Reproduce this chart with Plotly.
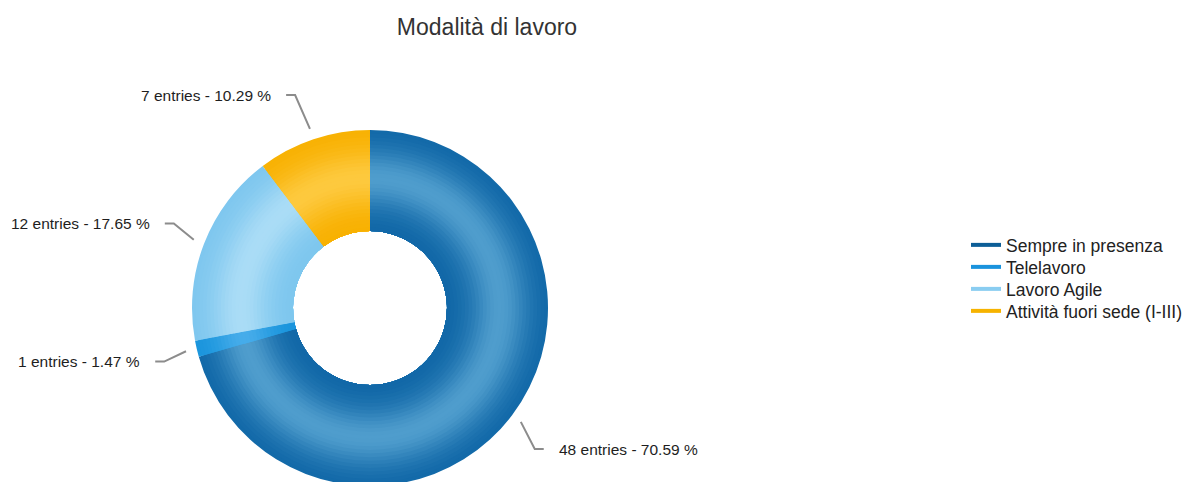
import math
import plotly.graph_objects as go

# --- data -------------------------------------------------------------
categories = ["Sempre in presenza", "Telelavoro", "Lavoro Agile", "Attività fuori sede (I-III)"]
entries = [48, 1, 12, 7]
title_text = "Modalità di lavoro"

# --- styling ----------------------------------------------------------
edge_colors = ["#0f66a6", "#1894dc", "#7cc6ee", "#f8b000"]
mid_colors = ["#4f9dcd", "#46acea", "#aadcf6", "#fdc93e"]
legend_colors = ["#0d5e97", "#1a93dd", "#8acdf1", "#f6b300"]
FONT = "Liberation Sans, Arial, sans-serif"

W, H = 1184, 490
CX, CY = 370, 308          # pie centre, px
R_OUT, R_IN = 178, 77      # outer radius / hole radius, px
N_RINGS = 28
LABEL_R = 234              # radius of label anchor, px
LEAD_START_R = 189
LABEL_MIN_Y = 95
LEGEND_X, LEGEND_Y0, LEGEND_STEP = 966, 245, 22


def hex_to_rgb(h):
    h = h.lstrip("#")
    return tuple(int(h[i:i + 2], 16) for i in (0, 2, 4))


def mix(c1, c2, t):
    a, b = hex_to_rgb(c1), hex_to_rgb(c2)
    return "rgb({},{},{})".format(*[round(a[i] + (b[i] - a[i]) * t) for i in range(3)])


def px_to_paper(x, y):
    return x / W, 1 - y / H


fig = go.Figure()

# Ring gradient: stacked donuts, largest first, each smaller one drawn on top
for k in range(N_RINGS):
    r_outer = R_OUT - (R_OUT - R_IN) * k / N_RINGS
    r_mid = r_outer - (R_OUT - R_IN) / (2 * N_RINGS)
    t = (r_mid - R_IN) / (R_OUT - R_IN)        # 0 inner .. 1 outer
    shade = math.exp(-((t - 0.52) / 0.28) ** 2)  # bright band mid-ring
    colors = [mix(e, m, shade) for e, m in zip(edge_colors, mid_colors)]
    x0, y0 = px_to_paper(CX - r_outer, CY + r_outer)
    x1, y1 = px_to_paper(CX + r_outer, CY - r_outer)
    fig.add_trace(go.Pie(
        labels=categories,
        values=entries,
        sort=False,
        direction="clockwise",
        rotation=0,
        hole=R_IN / r_outer,
        domain=dict(x=[x0, x1], y=[y0, y1]),
        marker=dict(colors=colors, line=dict(width=0)),
        textinfo="none",
        hoverinfo="label+value+percent",
        showlegend=False,
    ))

# Legend entries drawn as short line symbols, one legend box per row
legend_layout = {}
for i, (name, col) in enumerate(zip(categories, legend_colors)):
    key = "legend" if i == 0 else f"legend{i + 1}"
    fig.add_trace(go.Scatter(
        x=[None], y=[None], mode="lines", name=name,
        line=dict(color=col, width=4), legend=key,
    ))
    lx, ly = px_to_paper(LEGEND_X, LEGEND_Y0 + i * LEGEND_STEP)
    legend_layout[key] = dict(
        x=lx, xanchor="left", y=ly, yanchor="middle",
        font=dict(family=FONT, size=17.5, color="#222222"),
        itemwidth=30, bgcolor="rgba(0,0,0,0)",
    )

# Outside labels with leader lines, positioned from slice mid-angles
total = sum(entries)
cum = 0
annotations = []
shapes = []
for name, v in zip(categories, entries):
    mid = (cum + v / 2) / total * 2 * math.pi
    cum += v
    sx = CX + LEAD_START_R * math.sin(mid)
    sy = CY - LEAD_START_R * math.cos(mid)
    ly = CY - LABEL_R * math.cos(mid)
    ly = max(ly, LABEL_MIN_Y)
    right = math.sin(mid) >= 0
    dx = math.sqrt(max(LABEL_R ** 2 - (ly - CY) ** 2, 0))
    lx = CX + dx if right else CX - dx
    sgn = -1 if right else 1
    ex, hx = lx + sgn * 22, lx + sgn * 13
    pts = [px_to_paper(sx, sy), px_to_paper(ex, ly), px_to_paper(hx, ly)]
    path = "M {} {} L {} {} L {} {}".format(*[c for p in pts for c in p])
    shapes.append(dict(type="path", xref="paper", yref="paper", path=path,
                       line=dict(color="#8c8c8c", width=2)))
    pct = v / total * 100
    ax, ay = px_to_paper(lx, ly)
    annotations.append(dict(
        xref="paper", yref="paper", x=ax, y=ay,
        text=f"{v} entries - {pct:.2f} %",
        showarrow=False,
        xanchor="left" if right else "right", yanchor="middle",
        font=dict(family=FONT, size=15.5, color="#1e1e1e"),
    ))

fig.update_layout(
    width=W, height=H,
    margin=dict(l=0, r=0, t=0, b=0, autoexpand=False),
    paper_bgcolor="white",
    plot_bgcolor="white",
    title=dict(text=title_text, x=487 / W, xanchor="center", y=1 - 27 / H, yanchor="middle",
               xref="container", yref="container",
               font=dict(family=FONT, size=23, color="#333333")),
    xaxis=dict(visible=False),
    yaxis=dict(visible=False),
    annotations=annotations,
    shapes=shapes,
    showlegend=True,
    **legend_layout,
)

fig.write_html(
    "out.html",
    post_script="document.documentElement.style.overflow='hidden';"
                "document.body.style.overflow='hidden';document.body.style.margin='0';",
)
